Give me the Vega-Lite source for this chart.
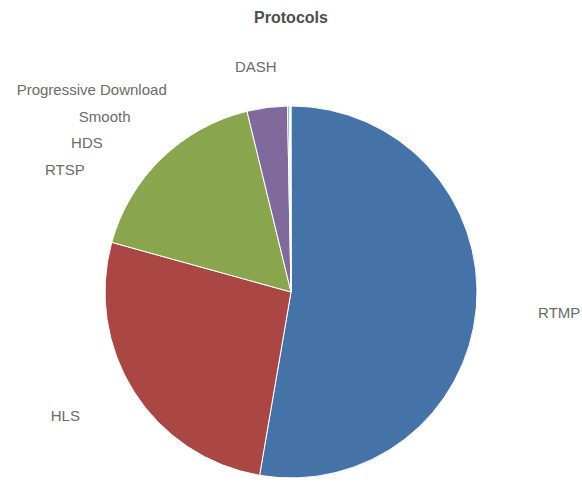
{
  "$schema": "https://vega.github.io/schema/vega-lite/v6.json",
  "width": 582,
  "height": 484,
  "autosize": {"type": "none"},
  "padding": {"left": 0, "top": 50, "right": 0, "bottom": 0},
  "background": "white",
  "title": {"text": "Protocols", "fontSize": 16, "font": "Liberation Sans", "fontWeight": "bold", "color": "#4d4d4d", "anchor": "middle", "frame": "group", "offset": -1},
  "config": {"view": {"stroke": null}},
  "data": {"values": [
    {"protocol": "RTMP", "value": 52.7},
    {"protocol": "HLS", "value": 26.6},
    {"protocol": "RTSP", "value": 16.9},
    {"protocol": "HDS", "value": 3.5},
    {"protocol": "Smooth", "value": 0.15},
    {"protocol": "Progressive Download", "value": 0.1},
    {"protocol": "DASH", "value": 0.05}
  ]},
  "encoding": {
    "theta": {"field": "value", "type": "quantitative", "stack": true},
    "order": {"field": "value", "type": "quantitative", "sort": "descending"}
  },
  "layer": [
    {
      "mark": {"type": "arc", "radius": 186, "stroke": "#ffffff", "strokeWidth": 1},
      "encoding": {
        "color": {"field": "protocol", "type": "nominal", "legend": null,
          "scale": {"domain": ["RTMP", "HLS", "RTSP", "HDS", "Smooth", "Progressive Download", "DASH"],
                    "range": ["#4572A7", "#AA4643", "#89A54E", "#80699B", "#3D96AE", "#DB843D", "#92A8CD"]}}
      }
    },
    {
      "mark": {"type": "text", "align": "left", "baseline": "middle", "fontSize": 15, "font": "Liberation Sans", "color": "#6b6b6b", "dx": 1, "dy": 0},
      "encoding": {"radius": {"value": 247}, "text": {"condition": {"test": "datum.protocol === 'RTMP'", "field": "protocol"}, "value": ""}}
    },
    {
      "mark": {"type": "text", "align": "right", "baseline": "middle", "fontSize": 15, "font": "Liberation Sans", "color": "#6b6b6b", "dx": 0, "dy": -10},
      "encoding": {"radius": {"value": 250}, "text": {"condition": {"test": "datum.protocol === 'HLS'", "field": "protocol"}, "value": ""}}
    },
    {
      "mark": {"type": "text", "align": "right", "baseline": "middle", "fontSize": 15, "font": "Liberation Sans", "color": "#6b6b6b", "dx": -88, "dy": 0},
      "encoding": {"radius": {"value": 170}, "text": {"condition": {"test": "datum.protocol === 'RTSP'", "field": "protocol"}, "value": ""}}
    },
    {
      "mark": {"type": "text", "align": "right", "baseline": "middle", "fontSize": 15, "font": "Liberation Sans", "color": "#6b6b6b", "dx": -169, "dy": 0},
      "encoding": {"radius": {"value": 150}, "text": {"condition": {"test": "datum.protocol === 'HDS'", "field": "protocol"}, "value": ""}}
    },
    {
      "mark": {"type": "text", "align": "right", "baseline": "middle", "fontSize": 15, "font": "Liberation Sans", "color": "#6b6b6b", "dx": -158, "dy": 0},
      "encoding": {"radius": {"value": 175}, "text": {"condition": {"test": "datum.protocol === 'Smooth'", "field": "protocol"}, "value": ""}}
    },
    {
      "mark": {"type": "text", "align": "right", "baseline": "middle", "fontSize": 15, "font": "Liberation Sans", "color": "#6b6b6b", "dx": -123, "dy": 0},
      "encoding": {"radius": {"value": 202}, "text": {"condition": {"test": "datum.protocol === 'Progressive Download'", "field": "protocol"}, "value": ""}}
    },
    {
      "mark": {"type": "text", "align": "right", "baseline": "middle", "fontSize": 15, "font": "Liberation Sans", "color": "#6b6b6b", "dx": -14, "dy": 0},
      "encoding": {"radius": {"value": 225}, "text": {"condition": {"test": "datum.protocol === 'DASH'", "field": "protocol"}, "value": ""}}
    }
  ]
}
